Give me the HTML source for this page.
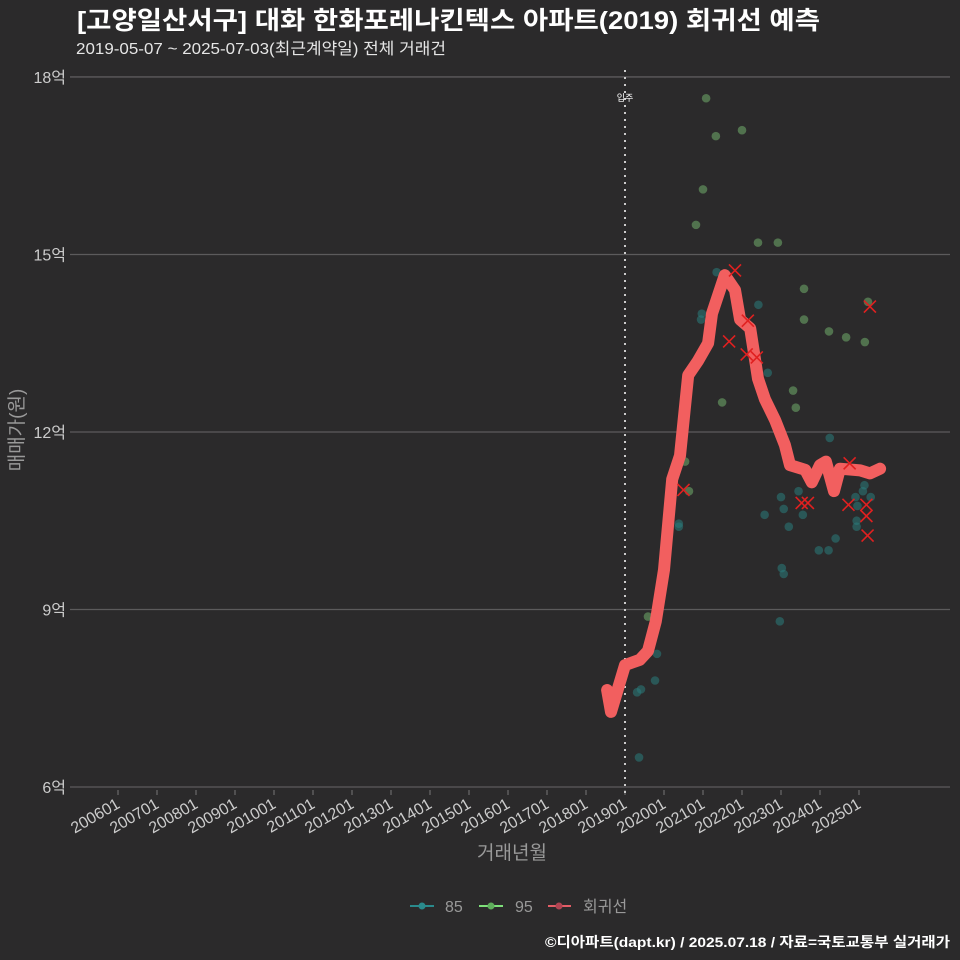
<!DOCTYPE html>
<html><head><meta charset="utf-8"><style>
body{margin:0;background:#2b2a2b;}
svg{display:block;font-family:"Liberation Sans","Noto Sans CJK KR",sans-serif;}
</style></head><body>
<svg id="chart" width="960" height="960" viewBox="0 0 960 960">
<rect x="0" y="0" width="960" height="960" fill="#2b2a2b"/>
<text x="77" y="29" fill="#ffffff" font-size="25" font-weight="bold" textLength="743" lengthAdjust="spacingAndGlyphs">[고양일산서구] 대화 한화포레나킨텍스 아파트(2019) 회귀선 예측</text>
<text x="76" y="54" fill="#e6e6e6" font-size="16" textLength="370" lengthAdjust="spacingAndGlyphs">2019-05-07 ~ 2025-07-03(최근계약일) 전체 거래건</text>
<g id="grid"></g>
<g id="yticks"></g>
<g id="xticks"></g>
<line x1="625" y1="70" x2="625" y2="795" stroke="#cccccc" stroke-width="2" stroke-dasharray="2,5"/>
<text x="625" y="101" fill="#ffffff" font-size="9" text-anchor="middle">입주</text>
<g id="pts"></g>
<g id="line"></g>
<g id="xs"></g>
<text x="512" y="859" fill="#999999" font-size="19" text-anchor="middle">거래년월</text>
<text transform="translate(23,430) rotate(-90)" fill="#999999" font-size="19" text-anchor="middle">매매가(원)</text>
<g>
 <g><line x1="410" y1="906" x2="434" y2="906" stroke="#2a8a8c" stroke-width="2"/><circle cx="422" cy="906" r="3.5" fill="#2a8a8c"/><text x="445" y="912" fill="#999" font-size="16">85</text></g>
 <g><line x1="479" y1="906" x2="503" y2="906" stroke="#7ee07a" stroke-width="2"/><circle cx="491" cy="906" r="3.5" fill="#5fae5c"/><text x="515" y="912" fill="#999" font-size="16">95</text></g>
 <g><line x1="548" y1="906" x2="571" y2="906" stroke="#e35d66" stroke-width="2"/><circle cx="559" cy="906" r="3.5" fill="#b04452"/><text x="583" y="912" fill="#999" font-size="16">회귀선</text></g>
</g>
<text x="950" y="947" fill="#ffffff" font-size="14" font-weight="bold" text-anchor="end" textLength="405" lengthAdjust="spacingAndGlyphs">©디아파트(dapt.kr) / 2025.07.18 / 자료=국토교통부 실거래가</text>
</svg>
<script>
const yTicks=[6,9,12,15,18];
const xTickYears=[2006,2007,2008,2009,2010,2011,2012,2013,2014,2015,2016,2017,2018,2019,2020,2021,2022,2023,2024,2025];
const lineT=[2018.54,2018.64,2019.0,2019.38,2019.59,2019.79,2020.0,2020.21,2020.41,2020.62,2020.87,2021.13,2021.23,2021.56,2021.82,2021.95,2022.21,2022.41,2022.59,2022.85,2023.10,2023.23,2023.62,2023.79,2024.0,2024.15,2024.36,2024.51,2025.03,2025.28,2025.54];
const lineV=[7.64,7.27,8.06,8.15,8.3,8.8,9.67,11.2,11.6,12.96,13.2,13.5,14.0,14.65,14.4,13.9,13.75,12.9,12.55,12.2,11.78,11.44,11.36,11.15,11.44,11.5,11.0,11.38,11.35,11.3,11.38];
const p95T=[2021.08,2021.33,2022.0,2021.0,2020.82,2022.41,2022.92,2023.59,2023.59,2024.23,2024.67,2025.15,2025.23,2021.49,2023.31,2023.38,2019.59,2019.74,2020.64,2020.54];
const p95V=[17.64,17.0,17.1,16.1,15.5,15.2,15.2,14.42,13.9,13.7,13.6,13.52,14.2,12.5,12.7,12.41,8.88,8.84,11.0,11.5];
const p85T=[2020.97,2020.95,2021.35,2022.1,2022.42,2022.66,2019.36,2019.31,2019.41,2019.82,2019.77,2020.38,2020.38,2023.0,2023.07,2022.58,2023.07,2023.02,2022.97,2024.25,2023.56,2023.97,2024.22,2024.4,2024.91,2024.96,2025.14,2025.3,2024.94,2024.94,2025.1,2023.45,2023.2];
const p85V=[14.0,13.9,14.7,13.8,14.15,13.0,6.5,7.6,7.65,8.25,7.8,10.45,10.4,10.9,10.7,10.6,9.6,9.7,8.8,11.9,10.6,10.0,10.0,10.2,10.9,10.75,11.1,10.9,10.5,10.4,11.0,11.0,10.4];
const xT=[2021.82,2021.67,2022.15,2022.12,2022.38,2020.5,2023.53,2023.69,2024.73,2025.19,2025.19,2025.22,2024.76,2025.28];
const xV=[14.73,13.53,13.88,13.31,13.26,11.02,10.8,10.8,10.77,10.77,10.58,10.25,11.47,14.12];
const NS="http://www.w3.org/2000/svg";
const X=t=>118+(t-2006)*39;
const Y=v=>787-(v-6)*59.17;
function mk(tag,attrs,parent){const e=document.createElementNS(NS,tag);for(const k in attrs)e.setAttribute(k,attrs[k]);parent.appendChild(e);return e;}
const grid=document.getElementById('grid'),yt=document.getElementById('yticks'),xt=document.getElementById('xticks');
yTicks.forEach(v=>{
 const l=mk('line',{x1:70,x2:950,y1:Y(v),y2:Y(v),stroke:'#5c5b5c','stroke-width':1.3},grid);
 
 
 const t=mk('text',{x:66,y:Y(v)+6,fill:'#cccccc','font-size':16,'text-anchor':'end'},yt);
 t.textContent=v+'억';
 
 
});
xTickYears.forEach(yr=>{
 const x=X(yr);
 const m=mk('line',{x1:x,x2:x,y1:790,y2:795,stroke:'#777','stroke-width':1},xt);
 
 
 const t=mk('text',{transform:`translate(${x+3},${807}) rotate(-30)`,fill:'#cccccc','font-size':16,'text-anchor':'end'},xt);
 t.textContent=yr+'01';
 
 
});
const pts=document.getElementById('pts');
p85T.forEach((t,i)=>{const c=mk('circle',{cx:X(t),cy:Y(p85V[i]),r:4.3,fill:'#2a7b7c','fill-opacity':0.55},pts);
 
 });
p95T.forEach((t,i)=>{const c=mk('circle',{cx:X(t),cy:Y(p95V[i]),r:4.3,fill:'#6aa465','fill-opacity':0.6},pts);
 
 });
const path=mk('path',{d:lineT.map((t,i)=>(i?'L':'M')+X(t).toFixed(1)+','+Y(lineV[i]).toFixed(1)).join(''),fill:'none',stroke:'#f25f5f','stroke-width':12,'stroke-linejoin':'round','stroke-linecap':'round'},document.getElementById('line'));


const xs=document.getElementById('xs');
xT.forEach((t,i)=>{const x=X(t),y=Y(xV[i]);
 const p=mk('path',{d:`M${x-6},${y-6}L${x+6},${y+6}M${x-6},${y+6}L${x+6},${y-6}`,stroke:'#e02020','stroke-width':1.6},xs);
 
 });
</script>
</body></html>
